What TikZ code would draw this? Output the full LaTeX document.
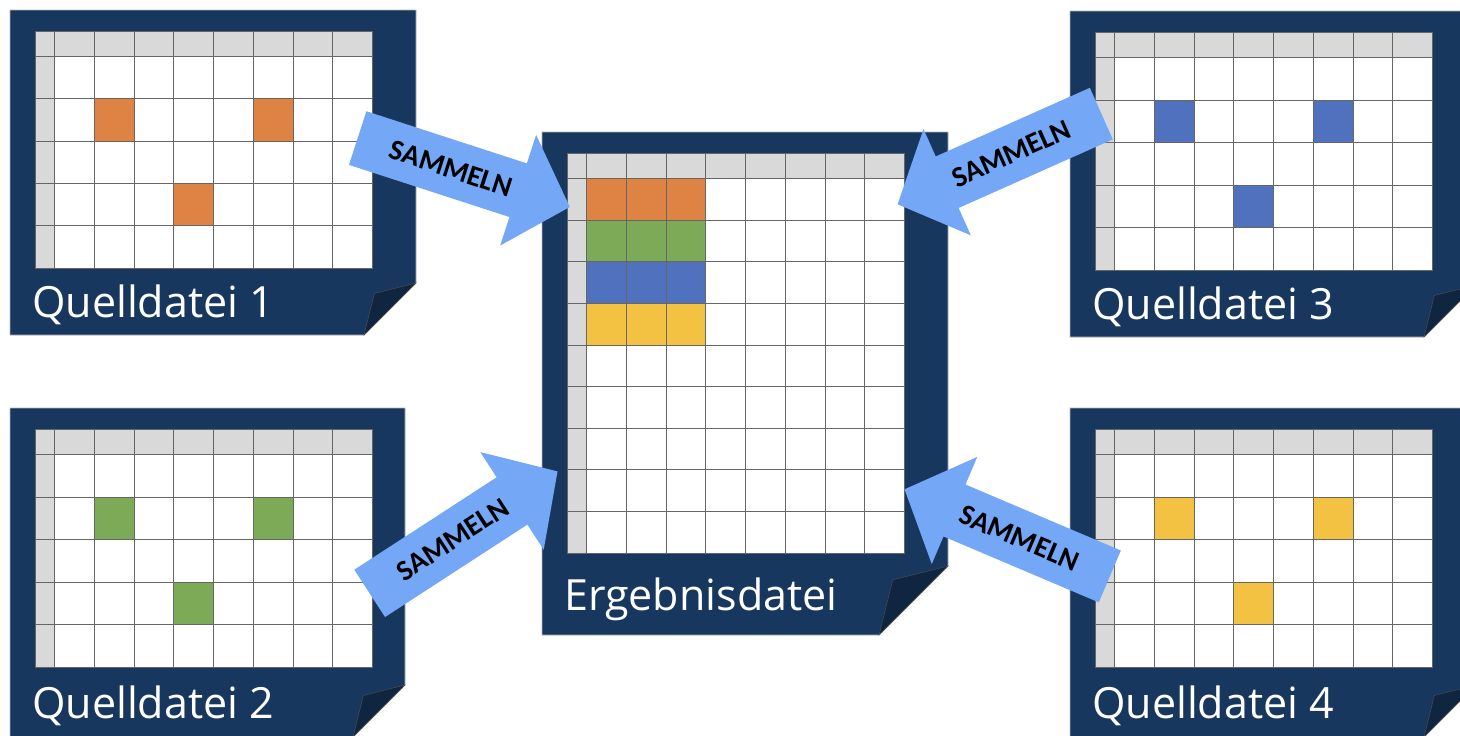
\documentclass[tikz,border=0pt]{standalone}
\usepackage{fontspec}
\newfontfamily\dateifont{Open Sans}
\newfontfamily\sammelfont{Carlito}
\usetikzlibrary{shapes.arrows}

\definecolor{navy}{HTML}{17375E}
\definecolor{navydark}{HTML}{10253F}
\definecolor{kopf}{HTML}{D9D9D9}
\definecolor{zelleorange}{HTML}{DF8344}
\definecolor{zellegruen}{HTML}{7DAA56}
\definecolor{zelleblau}{HTML}{4F71BE}
\definecolor{zellegelb}{HTML}{F3C243}
\definecolor{pfeilblau}{HTML}{75A7F7}

% #1 name, #2/#3 top left of the table, #4 bottom of the table, #5 rows,
% #6 right edge, #7 bottom edge, #8 size of the folded corner, #9 file name
\newcommand{\sheet}[9]{%
  \pgfmathsetmacro\gx{#2}\pgfmathsetmacro\gy{#3}%
  \pgfmathsetmacro\rowh{(#4-#3-25.5)/#5}%
  \filldraw[blatt] (#2-25,#3-21) -- (#6,#3-21) -- (#6,#7-#8) -- (#6-#8,#7) -- (#2-25,#7) -- cycle;
  \filldraw[ecke] (#6,#7-#8) -- (#6-.8*#8,#7-.8*#8) -- (#6-#8,#7) -- cycle;
  \fill[white] (#2,#3) rectangle (#2+337.5,#4);
  \fill[kopf] (#2,#3) rectangle (#2+337.5,#3+25.5);
  \fill[kopf] (#2,#3) rectangle (#2+19.5,#4);
  \foreach \i in {0,...,8}
    \draw[gitter] (#2+19.5+\i*39.75,#3) -- (#2+19.5+\i*39.75,#4);
  \foreach \j in {0,...,#5}
    \draw[gitter] (#2,#3+25.5+\j*\rowh) -- (#2+337.5,#3+25.5+\j*\rowh);
  \draw[gitter] (#2,#3) rectangle (#2+337.5,#4);
  \node[dateiname] (#1) at (#2-3,{(#4+#7)/2+16}) {#9};
}
% coloured cell in the last table
\newcommand{\zelle}[3]{%
  \filldraw[gitter, fill=#3] ({\gx+19.5+(#1-1)*39.75},{\gy+25.5+(#2-1)*\rowh}) rectangle ++(39.75,\rowh);
}

\begin{document}
\begin{tikzpicture}[x=1pt, y=-1pt,
    blatt/.style={fill=navy, draw=gray!60, line width=0.8pt},
    ecke/.style={fill=navydark, draw=black!70, line width=0.5pt},
    gitter/.style={draw=black!60, line width=0.7pt},
    dateiname/.style={font=\dateifont\fontsize{43}{43}\selectfont, text=white, anchor=base west, inner sep=0pt},
    sammeln/.style={single arrow, fill=pfeilblau, anchor=tail, font=\sammelfont\bfseries\fontsize{29}{29}\selectfont,
        text height=19pt, text depth=0pt, inner ysep=18.5pt, inner xsep=4pt,
        single arrow head extend=30pt, single arrow tip angle=94, minimum height=223pt},
]
    \clip (0,0) rectangle (1460,736);

    \sheet{quelle1}{35}{31}{268}{5}{416}{335}{52}{Quelldatei 1}
    \foreach \c/\r in {2/2,6/2,4/4} {\zelle{\c}{\r}{zelleorange}}

    \sheet{quelle2}{35}{429}{667}{5}{405}{737}{52}{Quelldatei 2}
    \foreach \c/\r in {2/2,6/2,4/4} {\zelle{\c}{\r}{zellegruen}}

    \sheet{quelle3}{1095}{32}{270}{5}{1476}{337}{52}{Quelldatei 3}
    \foreach \c/\r in {2/2,6/2,4/4} {\zelle{\c}{\r}{zelleblau}}

    \sheet{quelle4}{1095}{429}{667}{5}{1476}{737}{52}{Quelldatei 4}
    \foreach \c/\r in {2/2,6/2,4/4} {\zelle{\c}{\r}{zellegelb}}

    \sheet{ergebnis}{567}{153}{553}{9}{948}{635}{69}{Ergebnisdatei}
    \foreach \c in {1,2,3} {
        \zelle{\c}{1}{zelleorange}
        \zelle{\c}{2}{zellegruen}
        \zelle{\c}{3}{zelleblau}
        \zelle{\c}{4}{zellegelb}
    }

    \node[sammeln, rotate=-18] (sam1) at (357.5,138) {SAMMELN};
    \node[sammeln, rotate=33, minimum height=224pt] (sam2) at (369.5,593.5) {SAMMELN};
    \node[sammeln, shape border rotate=180, rotate=24] (sam3) at (1101.5,113.5) {SAMMELN};
    \node[sammeln, shape border rotate=180, rotate=-23] (sam4) at (1110,576.5) {SAMMELN};
\end{tikzpicture}
\end{document}
